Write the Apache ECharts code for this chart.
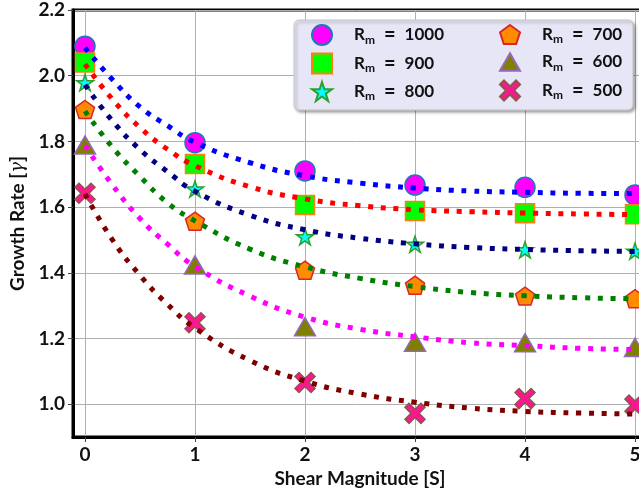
<!DOCTYPE html>
<html>
<head>
<meta charset="utf-8">
<script src="https://cdn.jsdelivr.net/npm/echarts@6/dist/echarts.min.js"></script>
<style>
  html, body { margin: 0; padding: 0; background: #ffffff; }
  #chart { width: 639px; height: 490px; }
</style>
</head>
<body>
<div id="chart"></div>
<script>
// ---- measured markers (x = shear magnitude, y = growth rate) ----
const shear = [0, 1, 2, 3, 4, 5];
const rm1000 = [2.090, 1.796, 1.710, 1.667, 1.660, 1.637];
const rm900  = [2.040, 1.731, 1.606, 1.588, 1.581, 1.578];
const rm800  = [1.979, 1.655, 1.510, 1.487, 1.470, 1.466];
const rm700  = [1.897, 1.557, 1.408, 1.362, 1.329, 1.321];
const rm600  = [1.789, 1.424, 1.236, 1.189, 1.187, 1.173];
const rm500  = [1.642, 1.248, 1.066, 0.972, 1.017, 0.997];

// ---- dotted fit curves ----
const curveX    = [0, 0.25, 0.5, 0.75, 1, 1.5, 2, 2.5, 3, 3.5, 4, 4.5, 5];
const fit1000 = [2.085, 1.988, 1.905, 1.848, 1.797, 1.735, 1.695, 1.673, 1.658, 1.649, 1.645, 1.642, 1.641];
const fit900  = [2.035, 1.928, 1.842, 1.776, 1.726, 1.662, 1.625, 1.604, 1.592, 1.586, 1.582, 1.579, 1.577];
const fit800  = [1.972, 1.862, 1.775, 1.708, 1.648, 1.575, 1.531, 1.505, 1.488, 1.477, 1.471, 1.467, 1.465];
const fit700  = [1.892, 1.782, 1.693, 1.613, 1.558, 1.472, 1.418, 1.383, 1.358, 1.340, 1.330, 1.324, 1.321];
const fit600  = [1.787, 1.667, 1.565, 1.487, 1.419, 1.329, 1.265, 1.228, 1.205, 1.187, 1.178, 1.170, 1.166];
const fit500  = [1.640, 1.500, 1.392, 1.304, 1.232, 1.133, 1.070, 1.031, 1.006, 0.988, 0.978, 0.973, 0.970];

const rmLabels = ['1000', '900', '800', '700', '600', '500'];

const SQUARE = 'path://M-10,-10L10,-10L10,10L-10,10Z';
const STAR = 'path://M0,-10L2.245,-3.09L9.511,-3.09L3.633,1.18L5.878,8.09L0,3.82L-5.878,8.09L-3.633,1.18L-9.511,-3.09L-2.245,-3.09Z';
const PENT = 'path://M0,-10L9.511,-3.09L5.878,8.09L-5.878,8.09L-9.511,-3.09Z';
const TRI  = 'path://M0,-10L10,7.32L-10,7.32Z';
const XMARK = 'path://M-10,-6L-6,-10L0,-4L6,-10L10,-6L4,0L10,6L6,10L0,4L-6,10L-10,6L-4,0Z';

const markerDefs = [
  { vals: rm1000, symbol: 'circle', size: 20, fill: '#ff00ff', edge: '#1f77b4' },
  { vals: rm900,  symbol: SQUARE,   size: 19, fill: '#00ff00', edge: '#ff7f0e' },
  { vals: rm800,  symbol: STAR,     size: 17, fill: '#00ffff', edge: '#2ca02c' },
  { vals: rm700,  symbol: PENT,     size: 19, fill: '#ff8c00', edge: '#d62728' },
  { vals: rm600,  symbol: TRI,      size: 21, fill: '#808000', edge: '#9467bd' },
  { vals: rm500,  symbol: XMARK,    size: 20, fill: '#ff1493', edge: '#8c564b' }
];
const fitDefs = [
  { vals: fit1000, color: '#0000ff' },
  { vals: fit900,  color: '#ff0000' },
  { vals: fit800,  color: '#000080' },
  { vals: fit700,  color: '#008000' },
  { vals: fit600,  color: '#ff00ff' },
  { vals: fit500,  color: '#800000' }
];

const FONT = 'Lato';

const series = [];
markerDefs.forEach((m, k) => {
  series.push({
    name: rmLabels[k],
    type: 'scatter',
    symbol: m.symbol,
    symbolSize: m.size,
    symbolKeepAspect: true,
    z: 2,
    itemStyle: { color: m.fill, borderColor: m.edge, borderWidth: 1.5, opacity: 1 },
    data: shear.map((x, i) => [x, m.vals[i]])
  });
});
fitDefs.forEach((f, k) => {
  series.push({
    name: 'fit' + rmLabels[k],
    type: 'line',
    smooth: true,
    showSymbol: false,
    symbol: 'none',
    z: 3,
    silent: true,
    lineStyle: { color: f.color, width: 5, type: [5, 7.7], cap: 'butt' },
    data: curveX.map((x, i) => [x, f.vals[i]])
  });
});

const legendRich = {
  r: { fontFamily: FONT, fontWeight: 'bold', fontSize: 17, color: '#111', lineHeight: 22, verticalAlign: 'middle', padding: [0, 0, 0, 17] },
  m: { fontFamily: FONT, fontWeight: 'bold', fontSize: 12, color: '#111', lineHeight: 12, verticalAlign: 'bottom' },
  e: { fontFamily: FONT, fontWeight: 'bold', fontSize: 20, color: '#111', lineHeight: 22, padding: [0, 9, 0, 9], verticalAlign: 'middle' },
  v: { fontFamily: FONT, fontWeight: 'bold', fontSize: 17, color: '#111', lineHeight: 22, verticalAlign: 'middle' }
};
function legendFmt(name) { return '{r|R}{m|m}{e|=}{v|' + name + '}'; }
function legendCfg(left, names) {
  return {
    orient: 'vertical', left: left, top: 24, padding: 0,
    itemWidth: 20, itemHeight: 20, itemGap: 6.5, z: 10,
    selectedMode: false,
    data: names,
    formatter: legendFmt,
    textStyle: { rich: legendRich }
  };
}

const chart = echarts.init(document.getElementById('chart'), null, { renderer: 'canvas' });
chart.setOption({
  animation: false,
  backgroundColor: '#ffffff',
  grid: {
    left: 73, top: 10, width: 574, height: 427,
    show: true, borderColor: '#000', borderWidth: 3,
    containLabel: false, outerBoundsMode: 'none'
  },
  graphic: {
    elements: [{
      type: 'rect', z: 5,
      shape: { x: 294, y: 20, width: 339, height: 90, r: 5 },
      style: {
        fill: '#e6e6f6', stroke: '#c8c8c8', lineWidth: 1,
        shadowBlur: 3, shadowColor: 'rgba(0,0,0,0.35)', shadowOffsetX: 2, shadowOffsetY: 2
      }
    }]
  },
  legend: [
    legendCfg(311, ['1000', '900', '800']),
    legendCfg(499, ['700', '600', '500'])
  ],
  xAxis: {
    type: 'value', min: -0.109, max: 5.109, splitNumber: 5,
    name: 'Shear Magnitude [S]', nameLocation: 'middle', nameGap: 30,
    nameTextStyle: { fontFamily: FONT, fontWeight: 'bold', fontSize: 19, color: '#111' },
    axisLine: { show: true, onZero: false, lineStyle: { color: '#000', width: 3 } },
    axisTick: { show: true, length: 5, lineStyle: { color: '#444', width: 1 } },
    axisLabel: {
      showMinLabel: false, showMaxLabel: false, margin: 8,
      fontFamily: FONT, fontWeight: 'bold', fontSize: 19, color: '#111',
      formatter: v => String(Math.round(v))
    },
    splitLine: { show: true, lineStyle: { color: '#b0b0b0', width: 1 } }
  },
  yAxis: {
    type: 'value', min: 0.9, max: 2.2, splitNumber: 6,
    name: 'Growth Rate [{g|γ}]', nameLocation: 'middle', nameGap: 44, nameRotate: 90,
    nameTextStyle: {
      fontFamily: FONT, fontWeight: 'bold', fontSize: 19, color: '#111',
      rich: { g: { fontFamily: 'DejaVu Serif', fontStyle: 'italic', fontWeight: 'normal', fontSize: 18, color: '#111' } }
    },
    axisLine: { show: true, onZero: false, lineStyle: { color: '#000', width: 3 } },
    axisTick: { show: true, length: 5, lineStyle: { color: '#444', width: 1 } },
    axisLabel: {
      showMinLabel: false, margin: 8,
      fontFamily: FONT, fontWeight: 'bold', fontSize: 19, color: '#111',
      formatter: v => v.toFixed(1)
    },
    splitLine: { show: true, lineStyle: { color: '#b0b0b0', width: 1 } }
  },
  series: series
});
</script>
</body>
</html>
